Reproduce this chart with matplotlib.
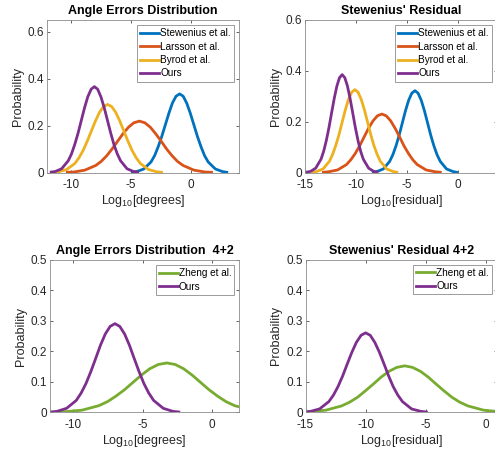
import matplotlib
matplotlib.use('Agg')
import matplotlib.pyplot as plt

plt.rcParams['font.family'] = ['Liberation Sans', 'DejaVu Sans']
plt.rcParams['mathtext.fontset'] = 'custom'
plt.rcParams['mathtext.rm'] = 'Liberation Sans'

# colours (MATLAB defaults)
c_blue = '#0072BD'
c_orange = '#D95319'
c_yellow = '#EDB120'
c_purple = '#7E2F8E'
c_green = '#77AC30'

# ---- top left: angle errors ----
tl_stew_x = [-4.88, -4.52, -3.93, -3.33, -3.03, -2.74, -2.44, -2.14, -1.84, -1.55, -1.25, -0.95,
             -0.65, -0.36, -0.06, 0.24, 0.54, 0.84, 1.13, 1.43, 2.03, 2.62, 2.98]
tl_stew_y = [0.001, 0.004, 0.015, 0.045, 0.072, 0.109, 0.153, 0.203, 0.253, 0.296, 0.325, 0.335,
             0.325, 0.296, 0.253, 0.203, 0.153, 0.109, 0.072, 0.045, 0.015, 0.004, 0.001]
tl_lars_x = [-10.31, -9.76, -8.85, -7.94, -7.49, -7.03, -6.58, -6.12, -5.67, -5.21, -4.76, -4.3,
             -3.85, -3.39, -2.94, -2.48, -2.03, -1.57, -1.12, -0.66, 0.25, 1.16, 1.71]
tl_lars_y = [0.001, 0.002, 0.010, 0.030, 0.047, 0.071, 0.100, 0.133, 0.165, 0.193, 0.212, 0.219,
             0.212, 0.193, 0.165, 0.133, 0.100, 0.071, 0.047, 0.030, 0.010, 0.002, 0.001]
tl_byrod_x = [-11.44, -11.03, -10.35, -9.67, -9.33, -8.99, -8.65, -8.31, -7.97, -7.63, -7.29, -6.95,
              -6.61, -6.27, -5.93, -5.59, -5.25, -4.91, -4.57, -4.23, -3.55, -2.87, -2.46]
tl_byrod_y = [0.001, 0.003, 0.013, 0.039, 0.063, 0.094, 0.133, 0.176, 0.219, 0.256, 0.281, 0.290,
              0.281, 0.256, 0.219, 0.176, 0.133, 0.094, 0.063, 0.039, 0.013, 0.003, 0.001]
tl_ours_x = [-11.65, -11.32, -10.78, -10.23, -9.96, -9.69, -9.41, -9.14, -8.87, -8.6, -8.32, -8.05,
             -7.78, -7.51, -7.23, -6.96, -6.69, -6.42, -6.14, -5.87, -5.33, -4.78, -4.45]
tl_ours_y = [0.002, 0.004, 0.016, 0.050, 0.079, 0.119, 0.168, 0.222, 0.276, 0.323, 0.355, 0.366,
             0.355, 0.323, 0.276, 0.222, 0.168, 0.119, 0.079, 0.050, 0.016, 0.004, 0.002]

# ---- top right: residual ----
tr_stew_x = [-8.29, -7.92, -7.3, -6.68, -6.37, -6.06, -5.75, -5.44, -5.13, -4.82, -4.51, -4.2,
             -3.89, -3.58, -3.27, -2.96, -2.65, -2.34, -2.03, -1.72, -1.1, -0.48, -0.11]
tr_stew_y = [0.001, 0.004, 0.014, 0.044, 0.070, 0.105, 0.147, 0.195, 0.243, 0.284, 0.312, 0.322,
             0.312, 0.284, 0.243, 0.195, 0.147, 0.105, 0.070, 0.044, 0.014, 0.004, 0.001]
tr_lars_x = [-13.19, -12.67, -11.8, -10.93, -10.5, -10.06, -9.63, -9.19, -8.76, -8.32, -7.89, -7.45,
             -7.02, -6.58, -6.15, -5.71, -5.28, -4.84, -4.41, -3.97, -3.1, -2.23, -1.71]
tr_lars_y = [0.001, 0.003, 0.010, 0.031, 0.050, 0.075, 0.105, 0.140, 0.174, 0.203, 0.223, 0.230,
             0.223, 0.203, 0.174, 0.140, 0.105, 0.075, 0.050, 0.031, 0.010, 0.003, 0.001]
tr_byrod_x = [-14.23, -13.85, -13.23, -12.6, -12.29, -11.98, -11.66, -11.35, -11.04, -10.73, -10.41, -10.1,
              -9.79, -9.48, -9.16, -8.85, -8.54, -8.23, -7.91, -7.6, -6.98, -6.35, -5.98]
tr_byrod_y = [0.001, 0.004, 0.014, 0.044, 0.071, 0.106, 0.149, 0.198, 0.246, 0.288, 0.316, 0.326,
              0.316, 0.288, 0.246, 0.198, 0.149, 0.106, 0.071, 0.044, 0.014, 0.004, 0.001]
tr_ours_x = [-14.78, -14.47, -13.95, -13.43, -13.17, -12.91, -12.65, -12.39, -12.13, -11.87, -11.61, -11.35,
             -11.09, -10.83, -10.57, -10.31, -10.05, -9.79, -9.53, -9.27, -8.75, -8.23, -7.92]
tr_ours_y = [0.002, 0.004, 0.017, 0.052, 0.083, 0.125, 0.176, 0.234, 0.291, 0.340, 0.373, 0.385,
             0.373, 0.340, 0.291, 0.234, 0.176, 0.125, 0.083, 0.052, 0.017, 0.004, 0.002]

# ---- bottom left: angle errors 4+2 ----
bl_zheng_x = [-11.7, -10.6, -9.38, -8.15, -7.54, -6.93, -6.31, -5.7, -5.09, -4.48, -3.86, -3.25,
              -2.64, -2.03, -1.41, -0.8, -0.19, 0.43, 1.04, 1.65, 2.88, 4.1, 4.84]
bl_zheng_y = [0.000, 0.002, 0.007, 0.022, 0.035, 0.053, 0.074, 0.098, 0.122, 0.143, 0.157, 0.162,
              0.157, 0.143, 0.122, 0.098, 0.074, 0.053, 0.035, 0.022, 0.007, 0.002, 0.001]
bl_ours_x = [-11.62, -11.2, -10.5, -9.8, -9.45, -9.1, -8.75, -8.4, -8.05, -7.7, -7.35, -7.0,
             -6.65, -6.3, -5.95, -5.6, -5.25, -4.9, -4.55, -4.2, -3.5, -2.8, -2.38]
bl_ours_y = [0.001, 0.003, 0.013, 0.039, 0.063, 0.094, 0.133, 0.176, 0.220, 0.257, 0.282, 0.291,
             0.282, 0.257, 0.220, 0.176, 0.133, 0.094, 0.063, 0.039, 0.013, 0.003, 0.001]

# ---- bottom right: residual 4+2 ----
br_zheng_x = [-15.4, -14.61, -13.3, -11.99, -11.34, -10.68, -10.03, -9.37, -8.72, -8.06, -7.41, -6.75,
              -6.1, -5.44, -4.79, -4.13, -3.48, -2.82, -2.17, -1.51, -0.2, 1.11, 1.9]
br_zheng_y = [0.001, 0.002, 0.007, 0.021, 0.033, 0.049, 0.070, 0.092, 0.115, 0.134, 0.147, 0.152,
              0.147, 0.134, 0.115, 0.092, 0.070, 0.049, 0.033, 0.021, 0.007, 0.002, 0.001]
br_ours_x = [-15.05, -14.59, -13.83, -13.06, -12.68, -12.3, -11.91, -11.53, -11.15, -10.77, -10.38, -10.0,
             -9.62, -9.24, -8.85, -8.47, -8.09, -7.71, -7.32, -6.94, -6.18, -5.41, -4.95]
br_ours_y = [0.001, 0.003, 0.011, 0.035, 0.056, 0.084, 0.119, 0.158, 0.196, 0.229, 0.252, 0.260,
             0.252, 0.229, 0.196, 0.158, 0.119, 0.084, 0.056, 0.035, 0.011, 0.003, 0.001]

top_yticks = [0, 0.2, 0.4, 0.6]
top_ylabels = ['0', '0.2', '0.4', '0.6']
bot_yticks = [0, 0.1, 0.2, 0.3, 0.4, 0.5]
bot_ylabels = ['0', '0.1', '0.2', '0.3', '0.4', '0.5']

W, H = 495.0, 450.0
fig = plt.figure(figsize=(4.95, 4.5), dpi=100)


def make_ax(left, right, top, bottom):
    return fig.add_axes([left / W, 1 - bottom / H, (right - left) / W, (bottom - top) / H])


def style(ax, title, xlabel, xlim, ylim, xticks, yticks, ylabels):
    ax.set_xlim(xlim)
    ax.set_ylim(ylim)
    ax.set_xticks(xticks)
    ax.set_xticklabels([str(t) for t in xticks])
    ax.set_yticks(yticks)
    ax.set_yticklabels(ylabels)
    ax.tick_params(direction='in', top=True, right=True, length=2.5, width=0.5,
                   labelsize=8.5, colors='#262626')
    ax.tick_params(axis='x', pad=5)
    ax.tick_params(axis='y', pad=2)
    for s in ax.spines.values():
        s.set_color('#8c8c8c')
        s.set_linewidth(0.6)
    ax.set_title(title, fontsize=9, fontweight='bold', pad=4, color='black')
    ax.set_xlabel(xlabel, fontsize=9, color='#262626', labelpad=1)
    ax.set_ylabel('Probability', fontsize=9, color='#262626', labelpad=3)
    leg = ax.legend(loc='upper right', fontsize=7.2, frameon=True, fancybox=False,
                    edgecolor='#8c8c8c', framealpha=1, handlelength=1.9, handletextpad=0.1,
                    labelspacing=0.35, borderpad=0.3, borderaxespad=0.5)
    leg.get_frame().set_linewidth(0.6)


lw = 2

ax1 = make_ax(47, 239, 20, 172.5)
ax1.plot(tl_stew_x, tl_stew_y, color=c_blue, lw=lw, label='Stewenius et al.')
ax1.plot(tl_lars_x, tl_lars_y, color=c_orange, lw=lw, label='Larsson et al.')
ax1.plot(tl_byrod_x, tl_byrod_y, color=c_yellow, lw=lw, label='Byrod et al.')
ax1.plot(tl_ours_x, tl_ours_y, color=c_purple, lw=lw, label='Ours')
style(ax1, 'Angle Errors Distribution', r'Log$_{\mathregular{10}}$[degrees]',
      (-12, 4), (0, 0.65), [-10, -5, 0], top_yticks, top_ylabels)

ax2 = make_ax(305, 497, 20, 172.5)
ax2.plot(tr_stew_x, tr_stew_y, color=c_blue, lw=lw, label='Stewenius et al.')
ax2.plot(tr_lars_x, tr_lars_y, color=c_orange, lw=lw, label='Larsson et al.')
ax2.plot(tr_byrod_x, tr_byrod_y, color=c_yellow, lw=lw, label='Byrod et al.')
ax2.plot(tr_ours_x, tr_ours_y, color=c_purple, lw=lw, label='Ours')
style(ax2, "Stewenius' Residual", r'Log$_{\mathregular{10}}$[residual]',
      (-15, 3.86), (0, 0.6), [-15, -10, -5, 0], top_yticks, top_ylabels)

ax3 = make_ax(50, 239.3, 260, 412.3)
ax3.plot(bl_zheng_x, bl_zheng_y, color=c_green, lw=lw, label='Zheng et al.')
ax3.plot(bl_ours_x, bl_ours_y, color=c_purple, lw=lw, label='Ours')
style(ax3, 'Angle Errors Distribution  4+2', r'Log$_{\mathregular{10}}$[degrees]',
      (-11.7, 2.0), (0, 0.5), [-10, -5, 0], bot_yticks, bot_ylabels)

ax4 = make_ax(305.5, 497, 259.5, 412.3)
ax4.plot(br_zheng_x, br_zheng_y, color=c_green, lw=lw, label='Zheng et al.')
ax4.plot(br_ours_x, br_ours_y, color=c_purple, lw=lw, label='Ours')
style(ax4, "Stewenius' Residual 4+2", r'Log$_{\mathregular{10}}$[residual]',
      (-15, 0.92), (0, 0.5), [-15, -10, -5, 0], bot_yticks, bot_ylabels)

fig.savefig('out.png', dpi=100, facecolor='white')
